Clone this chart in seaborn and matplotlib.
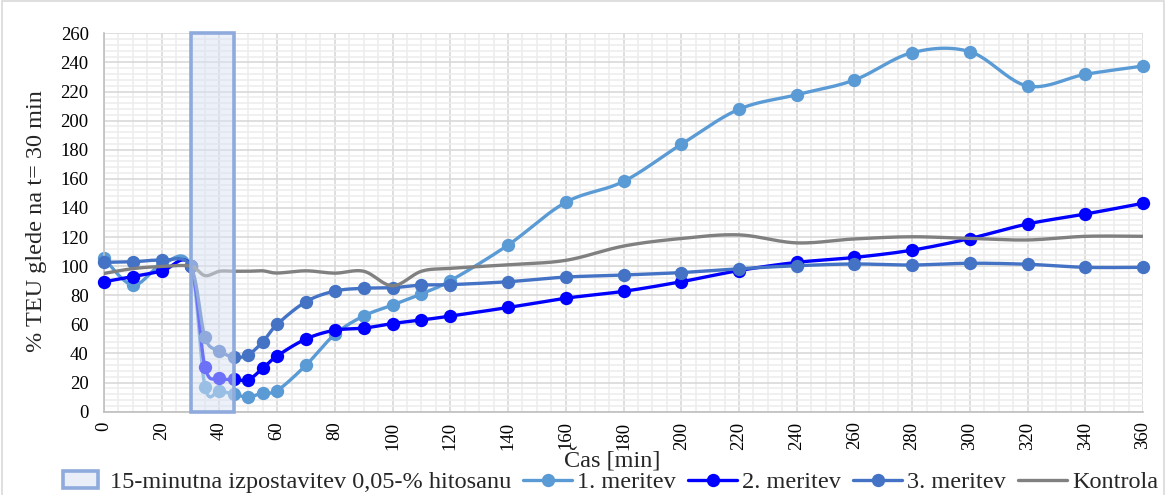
import numpy as np
import matplotlib
matplotlib.use("Agg")
import matplotlib.pyplot as plt
from matplotlib.patches import Rectangle
from matplotlib.lines import Line2D
from matplotlib.legend_handler import HandlerPatch
from matplotlib.ticker import MultipleLocator
from matplotlib.colors import to_rgba
import seaborn as sns

# Measurement times [min]
time_min = [0, 10, 20, 30, 35, 40, 45, 50, 55, 60, 70, 80, 90, 100, 110, 120,
            140, 160, 180, 200, 220, 240, 260, 280, 300, 320, 340, 360]

# TEU relative to t = 30 min [%]
meritev_1 = [105.4, 87, 101, 100, 17, 14.5, 12, 10, 13, 14.5, 32, 53.2, 65.8, 73.3,
             81, 90, 114.5, 143.9, 158.2, 183.7, 207.8, 217.8, 227.9, 246.7, 247.4,
             223.8, 231.8, 237.5]
meritev_2 = [89.3, 92.8, 96.5, 100, 30.5, 23, 22.2, 22, 29.8, 38.3, 50, 56, 57.4, 60.6,
             63, 65.7, 71.6, 78, 82.7, 89.3, 97, 102.6, 106, 111, 119, 129, 135.8, 143.2]
meritev_3 = [102.6, 103, 104, 100, 51, 42, 37.3, 39.2, 48, 60, 75.6, 82.9, 84.8, 85.2,
             87, 87.3, 89.3, 92.5, 93.9, 95.6, 98.2, 100.3, 101.5, 100.8, 102, 101.3,
             99.2, 99.2]
kontrola = [95, 98.3, 99.8, 100, 93.5, 96.5, 96.5, 96.5, 96.8, 95.3, 96.8, 95.2, 96.5,
            86.5, 96.5, 98.5, 101, 104, 113.8, 119, 121.5, 116, 118.7, 120.2, 119, 118,
            120.5, 120.5]

# Exposure window [min]
exposure_start, exposure_end = 30, 45

series_labels = ["1. meritev", "2. meritev", "3. meritev", "Kontrola"]
exposure_label = "15-minutna izpostavitev 0,05-% hitosanu"
x_title = "Čas [min]"
y_title = "% TEU glede na t= 30 min"


def smooth_curve(x, y, n=24):
    """Bezier smoothing through all points (Catmull-Rom style tangents)."""
    P = np.column_stack([np.asarray(x, float), np.asarray(y, float)])
    out = []
    t = np.linspace(0, 1, n)[:, None]
    for i in range(len(P) - 1):
        p0 = P[i - 1] if i > 0 else P[i]
        p1, p2 = P[i], P[i + 1]
        p3 = P[i + 2] if i + 2 < len(P) else P[i + 1]
        c1 = p1 + (p2 - p0) / 6.0
        c2 = p2 - (p3 - p1) / 6.0
        seg = (1 - t) ** 3 * p1 + 3 * (1 - t) ** 2 * t * c1 + 3 * (1 - t) * t ** 2 * c2 + t ** 3 * p2
        out.append(seg if i == 0 else seg[1:])
    return np.vstack(out)


sns.set_style("white")
plt.rcParams["font.family"] = ["Liberation Serif", "DejaVu Serif"]

W, H = 1166, 495
fig = plt.figure(figsize=(W / 100, H / 100), dpi=100)
ax = fig.add_axes([104 / W, (H - 411.7) / H, 1039 / W, 378.4 / H])

c1, c2, c3, cg = "#5B9BD5", "#0000FF", "#4472C4", "#808080"
lw = 2.4
ms = 9.6

for vals, col, z, marker in [(meritev_1, c1, 2, True), (meritev_2, c2, 3, True),
                             (meritev_3, c3, 4, True), (kontrola, cg, 4.5, False)]:
    curve = smooth_curve(time_min, vals)
    sns.lineplot(x=curve[:, 0], y=curve[:, 1], sort=False, estimator=None,
                 color=col, lw=lw, ax=ax, zorder=z, legend=False)
    if marker:
        sns.scatterplot(x=time_min, y=vals, color=col, s=ms ** 2, linewidth=0,
                        ax=ax, zorder=z, legend=False, clip_on=False)

# Exposure window drawn over the series
span = ax.axvspan(exposure_start, exposure_end, ymin=0, ymax=1,
                  facecolor=to_rgba("#DAE3F3", 0.5), edgecolor="#8FAADC",
                  lw=2.6, zorder=6, clip_on=False)

ax.set_xlim(0, 360)
ax.set_ylim(0, 260)
ax.xaxis.set_major_locator(MultipleLocator(20))
ax.xaxis.set_minor_locator(MultipleLocator(5))
ax.yaxis.set_major_locator(MultipleLocator(20))
ax.yaxis.set_minor_locator(MultipleLocator(4))
ax.grid(which="major", color="#D9D9D9", lw=1.2, zorder=0)
ax.grid(which="minor", color="#EDEDED", lw=1.2, zorder=0)
ax.set_axisbelow(True)

for side in ["top", "right"]:
    ax.spines[side].set_visible(False)
for side in ["left", "bottom"]:
    ax.spines[side].set_color("#BFBFBF")
    ax.spines[side].set_linewidth(1.2)

ax.tick_params(which="major", length=5, width=1.1, color="#BFBFBF",
               labelsize=13.5, labelcolor="black", direction="out")
ax.tick_params(axis="y", which="major", pad=6)
ax.tick_params(axis="x", which="major", pad=2, labelrotation=90)
ax.tick_params(which="minor", length=0)

ax.set_xlabel(x_title, fontsize=17.5)
ax.set_ylabel(y_title, fontsize=17.5)
ax.xaxis.set_label_coords(0.489, -0.128)
ax.xaxis.label.set_va("center")
ax.yaxis.set_label_coords(-0.0645, 0.504)
ax.yaxis.label.set_va("center")


class NarrowRectHandler(HandlerPatch):
    def create_artists(self, legend, orig_handle, xdescent, ydescent, width,
                       height, fontsize, trans):
        w = width * 0.72
        h = height * 1.05
        r = Rectangle((-xdescent + (width - w) / 2, -ydescent - 0.02 * height), w, h,
                      facecolor="#EAEEF8", edgecolor="#8FAADC", lw=2.6,
                      transform=trans)
        return [r]


handles = [Rectangle((0, 0), 1, 1, facecolor="#EAEEF8", edgecolor="#8FAADC", lw=2.6)]
for col, mk in [(c1, "o"), (c2, "o"), (c3, "o"), (cg, None)]:
    handles.append(Line2D([0], [0], color=col, lw=lw, marker=mk, markersize=ms,
                          markeredgewidth=0))
labels = [exposure_label] + series_labels

fig.legend(handles, labels, loc="center", bbox_to_anchor=(0.5206, 0.026),
           ncol=5, frameon=False, fontsize=17.5, handlelength=2.0,
           handletextpad=0.22, columnspacing=0.5, borderaxespad=0,
           borderpad=0, handler_map={Rectangle: NarrowRectHandler()})

# Chart border
fig.add_artist(Rectangle((2 / W, -0.02), (W - 4) / W, 1.0 + 0.02 - 1 / H,
                         transform=fig.transFigure, fill=False,
                         edgecolor="#D9D9D9", lw=1.2))

fig.savefig("out.png", dpi=100)
